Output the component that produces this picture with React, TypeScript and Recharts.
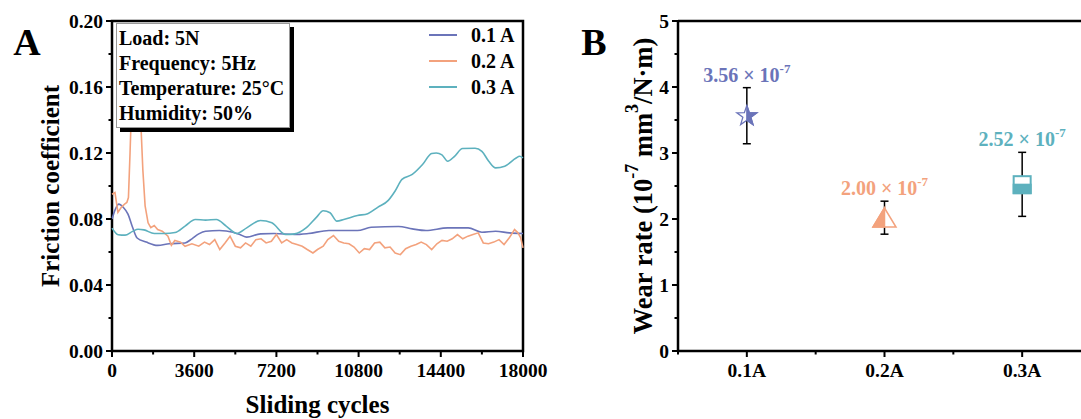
import React from 'react'
import { LineChart, Line, ScatterChart, Scatter, ErrorBar, XAxis, YAxis, Legend, Label, ReferenceArea, ReferenceLine } from 'recharts'

const FONT = '"Liberation Serif", "Times New Roman", serif'

// ---- panel A: friction coefficient vs sliding cycles ----
const cycles01 = [0, 150, 300, 500, 700, 900, 1100, 1500, 2000, 2500, 3200, 3500, 3800, 4100, 4700, 5300, 5600, 5900, 6500, 7100, 8000, 8600, 9500, 10750, 11350, 12550, 13150, 13750, 14700, 15600, 16200, 16800, 17400, 18000]
const mu01 = [0.080, 0.086, 0.089, 0.087, 0.083, 0.075, 0.0685, 0.066, 0.064, 0.065, 0.0655, 0.068, 0.071, 0.0726, 0.073, 0.072, 0.0706, 0.069, 0.071, 0.0712, 0.0706, 0.0712, 0.073, 0.073, 0.075, 0.0755, 0.074, 0.073, 0.0746, 0.0746, 0.072, 0.0726, 0.0716, 0.0712]

const cycles02 = [0, 130, 260, 400, 550, 650, 720, 790, 860, 1000, 1150, 1270, 1350, 1450, 1580, 1700, 1850, 2000, 2200, 2450, 2600, 2750, 3000, 3200, 3500, 3800, 4050, 4270, 4500, 4720, 4950, 5170, 5400, 5630, 5850, 6080, 6300, 6530, 6750, 6980, 7200, 7430, 7650, 7880, 8100, 8330, 8550, 8800, 9000, 9250, 9450, 9700, 9930, 10150, 10380, 10600, 10830, 11050, 11280, 11500, 11730, 11950, 12180, 12400, 12630, 12860, 13090, 13320, 13540, 13770, 14000, 14230, 14450, 14680, 14900, 15130, 15360, 15590, 15810, 16040, 16260, 16490, 16720, 16950, 17170, 17400, 17630, 17780, 17900, 18000]
const mu02 = [0.095, 0.096, 0.084, 0.087, 0.089, 0.090, 0.093, 0.12, 0.15, 0.152, 0.149, 0.136, 0.11, 0.088, 0.0777, 0.0747, 0.076, 0.0736, 0.0726, 0.0696, 0.064, 0.067, 0.066, 0.0635, 0.065, 0.0635, 0.066, 0.0645, 0.0675, 0.0615, 0.0655, 0.0696, 0.0635, 0.0625, 0.0655, 0.0635, 0.0675, 0.068, 0.0655, 0.0665, 0.0706, 0.0655, 0.0675, 0.0655, 0.0645, 0.0635, 0.0615, 0.0594, 0.0615, 0.0635, 0.0675, 0.070, 0.0665, 0.0655, 0.065, 0.063, 0.0594, 0.062, 0.0615, 0.0655, 0.066, 0.0625, 0.063, 0.0594, 0.0584, 0.062, 0.0635, 0.0645, 0.066, 0.0645, 0.0615, 0.065, 0.067, 0.0665, 0.068, 0.0706, 0.068, 0.0696, 0.0706, 0.0716, 0.0655, 0.065, 0.066, 0.0675, 0.0645, 0.0686, 0.0736, 0.0716, 0.0686, 0.0625]

const cycles03 = [0, 270, 570, 900, 1140, 1400, 1850, 2300, 2760, 3200, 3650, 4100, 4570, 5000, 5470, 5900, 6500, 7000, 7600, 8000, 8500, 8950, 9250, 9550, 9850, 10150, 10750, 11200, 11650, 12100, 12400, 12700, 13150, 13600, 14000, 14200, 14450, 14700, 15000, 15350, 15900, 16200, 16500, 16800, 17200, 17700, 17850, 18000]
const mu03 = [0.0745, 0.0705, 0.0702, 0.0725, 0.0738, 0.0734, 0.0712, 0.0712, 0.0718, 0.0757, 0.0797, 0.0793, 0.0797, 0.0757, 0.0712, 0.0746, 0.0791, 0.0777, 0.0706, 0.071, 0.0746, 0.081, 0.085, 0.0838, 0.0787, 0.0797, 0.0821, 0.0832, 0.0872, 0.0913, 0.097, 0.104, 0.107, 0.113, 0.1197, 0.120, 0.1189, 0.115, 0.118, 0.1227, 0.1229, 0.121, 0.115, 0.111, 0.112, 0.117, 0.118, 0.117]

const cycleTicks = [0, 1800, 3600, 5400, 7200, 9000, 10800, 12600, 14400, 16200, 18000]
const muTicks = [0, 0.02, 0.04, 0.06, 0.08, 0.1, 0.12, 0.14, 0.16, 0.18, 0.2]
const testNotes = ['Load: 5N', 'Frequency: 5Hz', 'Temperature: 25°C', 'Humidity: 50%']

const seriesA = [
  { name: '0.1 A', color: '#6b74b9', xs: cycles01, ys: mu01, curve: 'monotone' },
  { name: '0.2 A', color: '#f3a27d', xs: cycles02, ys: mu02, curve: 'linear' },
  { name: '0.3 A', color: '#5db1be', xs: cycles03, ys: mu03, curve: 'monotone' },
]

// ---- panel B: wear rate ----
const currents = ['0.1A', '0.2A', '0.3A']
const wearRate = [3.56, 2.0, 2.52]
const wearErrLow = [0.42, 0.23, 0.48]
const wearErrHigh = [0.43, 0.27, 0.49]
const wearLabels = ['3.56', '2.00', '2.52']
const wearColors = ['#6b74b9', '#f3a27d', '#5db1be']
const currentTicks = [0.5, 1, 1.5, 2, 2.5, 3, 3.5]
const wearTicks = [0, 0.5, 1, 1.5, 2, 2.5, 3, 3.5, 4, 4.5, 5]

const pointsB = currents.map((c, i) => ({
  x: i + 1,
  y: wearRate[i],
  err: [wearErrLow[i], wearErrHigh[i]],
  color: wearColors[i],
}))
const labelPointsB = currents.map((c, i) => ({
  x: i + 1,
  y: wearRate[i] + wearErrHigh[i],
  text: wearLabels[i],
  color: wearColors[i],
}))

const BottomTick = ({ x, y, payload, fmt }: any) => {
  const label = fmt(payload.value)
  return (
    <g>
      <line x1={x} x2={x} y1={y} y2={y + (label ? 6 : 3.5)} stroke="#000" strokeWidth={2} />
      {label && (
        <text x={x} y={y + 26} textAnchor="middle" fontFamily={FONT} fontWeight="bold" fontSize={19.5} fill="#000">
          {label}
        </text>
      )}
    </g>
  )
}

const LeftTick = ({ x, y, payload, fmt }: any) => {
  const label = fmt(payload.value)
  return (
    <g>
      <line x1={x} x2={x - (label ? 6 : 3.5)} y1={y} y2={y} stroke="#000" strokeWidth={2} />
      {label && (
        <text x={x - 9} y={y} dy="0.35em" textAnchor="end" fontFamily={FONT} fontWeight="bold" fontSize={19.5} fill="#000">
          {label}
        </text>
      )}
    </g>
  )
}

const fmtCycles = (v: number) => (v % 3600 === 0 ? String(v) : '')
const fmtMu = (v: number) => (Math.round(v * 100) % 4 === 0 ? v.toFixed(2) : '')
const fmtCurrent = (v: number) => (Number.isInteger(v) && currents[v - 1] ? currents[v - 1] : '')
const fmtWear = (v: number) => (Number.isInteger(v) ? String(v) : '')

const renderLegend = (props: any) => (
  <div>
    {(props.payload || []).map((e: any) => (
      <div key={e.value} style={{ display: 'flex', alignItems: 'center', height: 26 }}>
        <span style={{ display: 'inline-block', width: 28, height: 2.5, background: e.color }} />
        <span style={{ marginLeft: 14, fontFamily: FONT, fontWeight: 'bold', fontSize: 20, color: '#000' }}>{e.value}</span>
      </div>
    ))}
  </div>
)

const StarShape = (props: any) => {
  const { cx, cy } = props
  const col = wearColors[0]
  const R = 10.5
  const r = 4.2
  const pts: [number, number][] = []
  for (let k = 0; k < 10; k++) {
    const a = (-90 + k * 36) * Math.PI / 180
    const rad = k % 2 === 0 ? R : r
    pts.push([cx + rad * Math.cos(a), cy + rad * Math.sin(a)])
  }
  const full = pts.map((p) => p.join(',')).join(' ')
  const half = pts.slice(0, 6).map((p) => p.join(',')).join(' ')
  return (
    <g>
      <polygon points={full} fill="#fff" stroke={col} strokeWidth={1.3} />
      <polygon points={half} fill={col} stroke={col} strokeWidth={1.3} />
    </g>
  )
}

const TriangleShape = (props: any) => {
  const { cx, cy } = props
  const col = wearColors[1]
  const top = `${cx},${cy - 11}`
  return (
    <g>
      <polygon points={`${top} ${cx - 11.5},${cy + 8} ${cx + 11.5},${cy + 8}`} fill="#fff" stroke={col} strokeWidth={1.5} />
      <polygon points={`${top} ${cx - 11.5},${cy + 8} ${cx},${cy + 8}`} fill={col} stroke={col} strokeWidth={1.5} />
    </g>
  )
}

const SquareShape = (props: any) => {
  const { cx, cy } = props
  const col = wearColors[2]
  return (
    <g>
      <rect x={cx - 8.5} y={cy - 8.5} width={17} height={17} fill="#fff" stroke={col} strokeWidth={2} />
      <rect x={cx - 8.5} y={cy} width={17} height={8.5} fill={col} stroke={col} strokeWidth={2} />
    </g>
  )
}

const markerShapes = [StarShape, TriangleShape, SquareShape]

const ValueLabel = (props: any) => {
  const { cx, cy } = props
  const d = props.payload || props
  return (
    <text x={cx} y={cy - 6} textAnchor="middle" fontFamily={FONT} fontWeight="bold" fontSize={20} fill={d.color}>
      {d.text} × 10
      <tspan fontSize={13} dy={-9}>-7</tspan>
    </text>
  )
}

const Empty = () => <g />

export default function App() {
  return (
    <div style={{ position: 'absolute', left: 0, top: 0, width: 1081, height: 419, overflow: 'hidden', background: '#fff', fontFamily: FONT }}>
      <div style={{ position: 'absolute', left: 0, top: 0 }}>
        <LineChart width={560} height={419} margin={{ top: 21, right: 37, bottom: 0, left: 0 }}>
          <XAxis
            dataKey="c"
            type="number"
            domain={[0, 18000]}
            ticks={cycleTicks}
            interval={0}
            height={68}
            tickSize={0}
            tickMargin={0}
            tickLine={false}
            axisLine={false}
            tick={<BottomTick fmt={fmtCycles} />}
          >
            <Label
              content={(p: any) => {
                const vb = p.viewBox || { x: 112, y: 351, width: 411 }
                return (
                  <text x={vb.x + vb.width / 2} y={vb.y + 62} textAnchor="middle" fontFamily={FONT} fontWeight="bold" fontSize={25} fill="#000">
                    Sliding cycles
                  </text>
                )
              }}
            />
          </XAxis>
          <YAxis
            type="number"
            domain={[0, 0.2]}
            ticks={muTicks}
            interval={0}
            width={112}
            tickSize={0}
            tickMargin={0}
            tickLine={false}
            axisLine={false}
            tick={<LeftTick fmt={fmtMu} />}
          >
            <Label
              content={(p: any) => {
                const vb = p.viewBox || { x: 0, y: 21, width: 112, height: 330 }
                return (
                  <text
                    transform={`translate(${vb.x + 50}, ${vb.y + vb.height / 2}) rotate(-90)`}
                    textAnchor="middle"
                    dominantBaseline="central"
                    fontFamily={FONT}
                    fontWeight="bold"
                    fontSize={25}
                    fill="#000"
                  >
                    Friction coefficient
                  </text>
                )
              }}
            />
          </YAxis>
          <ReferenceArea x1={0} x2={18000} y1={0} y2={0.2} fill="none" fillOpacity={0} stroke="#000" strokeWidth={2.5} ifOverflow="visible" />
          <Legend
            layout="vertical"
            align="center"
            verticalAlign="middle"
            wrapperStyle={{ position: 'absolute', left: 429, top: 22, width: 110 }}
            content={renderLegend}
          />
          {seriesA.map((s) => (
            <Line
              key={s.name}
              name={s.name}
              data={s.xs.map((c, i) => ({ c, v: s.ys[i] }))}
              dataKey="v"
              type={s.curve as any}
              stroke={s.color}
              strokeWidth={1.6}
              dot={false}
              isAnimationActive={false}
            />
          ))}
        </LineChart>
      </div>

      <div
        style={{
          position: 'absolute',
          left: 116,
          top: 23,
          width: 174,
          height: 105,
          boxSizing: 'border-box',
          border: '1px solid #999',
          background: '#fff',
          boxShadow: '4px 4px 0 #000',
          fontFamily: FONT,
          fontWeight: 'bold',
          fontSize: 20,
          lineHeight: '25px',
          paddingLeft: 2,
          paddingTop: 2,
          color: '#000',
          whiteSpace: 'nowrap',
        }}
      >
        {testNotes.map((t) => (
          <div key={t}>{t}</div>
        ))}
      </div>

      <div style={{ position: 'absolute', left: 540, top: 0 }}>
        <ScatterChart width={560} height={419} margin={{ top: 21, right: 9, bottom: 0, left: 0 }}>
          <XAxis
            dataKey="x"
            type="number"
            domain={[0.5, 3.5]}
            ticks={currentTicks}
            interval={0}
            height={68}
            tickSize={0}
            tickMargin={0}
            tickLine={false}
            axisLine={false}
            tick={<BottomTick fmt={fmtCurrent} />}
          />
          <YAxis
            dataKey="y"
            type="number"
            domain={[0, 5]}
            ticks={wearTicks}
            interval={0}
            width={138}
            tickSize={0}
            tickMargin={0}
            tickLine={false}
            axisLine={false}
            tick={<LeftTick fmt={fmtWear} />}
          >
            <Label
              content={(p: any) => {
                const vb = p.viewBox || { x: 0, y: 21, width: 138, height: 330 }
                return (
                  <text
                    transform={`translate(${vb.x + 103}, ${vb.y + vb.height / 2}) rotate(-90)`}
                    textAnchor="middle"
                    dominantBaseline="central"
                    fontFamily={FONT}
                    fontWeight="bold"
                    fontSize={26.5}
                    fill="#000"
                  >
                    Wear rate (10
                    <tspan fontSize={18} dy={-11}>-7</tspan>
                    <tspan dy={11}> mm</tspan>
                    <tspan fontSize={18} dy={-11}>3</tspan>
                    <tspan dy={11}>/N·m)</tspan>
                  </text>
                )
              }}
            />
          </YAxis>
          {/* open frame: the right side falls outside the page, as in the source figure */}
          <ReferenceLine y={5} stroke="#000" strokeWidth={2.5} ifOverflow="visible" />
          <ReferenceLine y={0} stroke="#000" strokeWidth={2.5} ifOverflow="visible" />
          <ReferenceLine x={0.5} stroke="#000" strokeWidth={2.5} ifOverflow="visible" />
          {pointsB.map((p, i) => (
            <Scatter key={currents[i]} data={[p]} shape={markerShapes[i]} isAnimationActive={false} />
          ))}
          <Scatter data={pointsB} shape={Empty} isAnimationActive={false}>
            <ErrorBar dataKey="err" direction="y" width={4} stroke="#000" strokeWidth={1.5} />
          </Scatter>
          <Scatter data={labelPointsB} shape={ValueLabel} isAnimationActive={false} />
        </ScatterChart>
      </div>

      <svg width={1081} height={419} style={{ position: 'absolute', left: 0, top: 0, pointerEvents: 'none' }}>
        <text x={27} y={55} textAnchor="middle" fontFamily={FONT} fontWeight="bold" fontSize={38} fill="#000">A</text>
        <text x={594} y={55} textAnchor="middle" fontFamily={FONT} fontWeight="bold" fontSize={38} fill="#000">B</text>
      </svg>
    </div>
  )
}
